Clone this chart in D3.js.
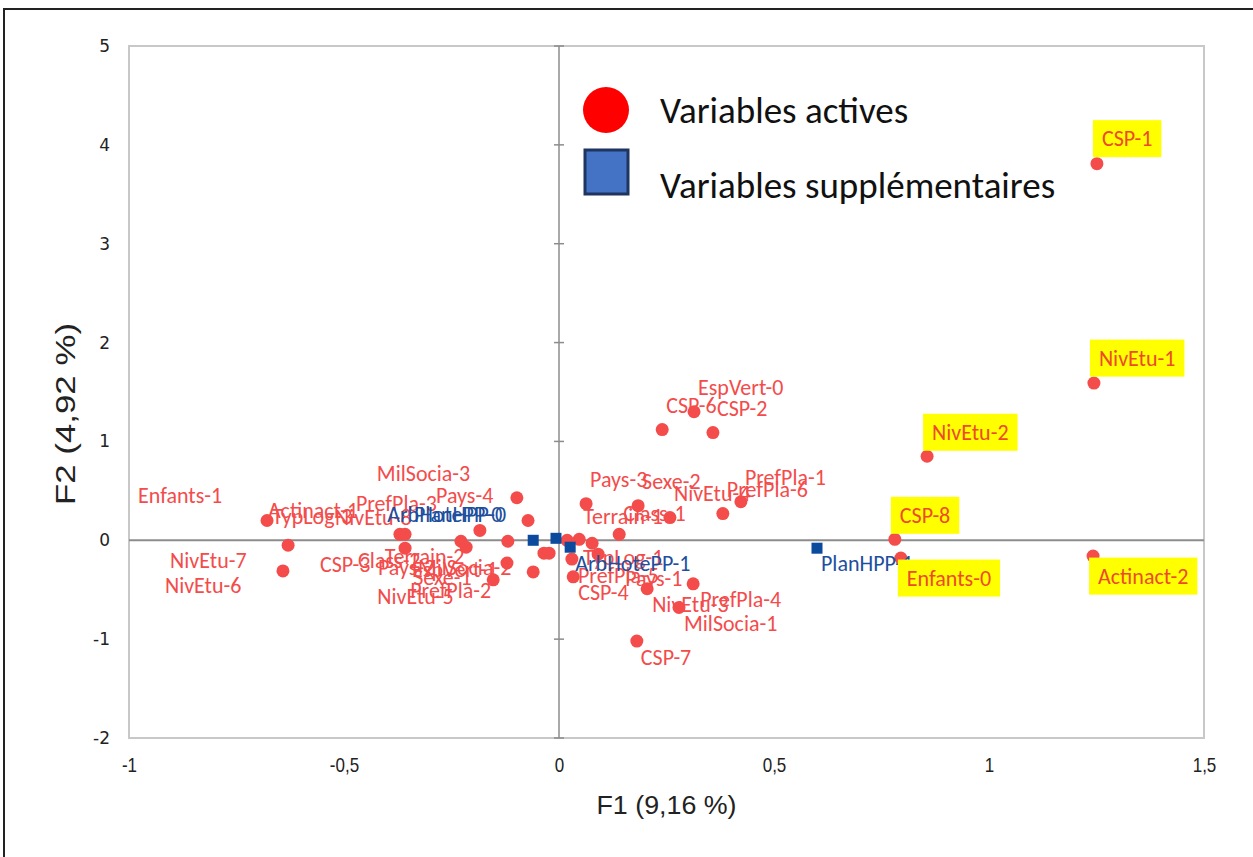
<!DOCTYPE html>
<html>
<head>
<meta charset="utf-8">
<script src="https://cdn.jsdelivr.net/npm/d3@7"></script>
<style>
  body { margin: 0; background: #fff; }
  svg { display: block; }
</style>
</head>
<body>
<div id="chart"></div>
<script>
// Variables actives (F1, F2)
const activeNames = [
  "CSP-1", "NivEtu-1", "NivEtu-2", "CSP-8", "Enfants-0", "Actinact-2",
  "CSP-6", "EspVert-0", "CSP-2", "Pays-3", "Sexe-2", "NivEtu-4", "PrefPla-6", "PrefPla-1",
  "Class-1", "Terrain-1", "TypLog-1", "PrefPla-5", "Pays-1", "CSP-4", "NivEtu-3",
  "PrefPla-4", "MilSocia-1", "CSP-7",
  "Enfants-1", "NivEtu-7", "NivEtu-6", "Actinact-1", "TypLog-3", "PrefPla-3", "NivEtu-8",
  "MilSocia-3", "Pays-4", "CSP-3", "Class-2", "Terrain-2", "Pays-2", "NivEtu-5",
  "Sexe-1", "MilSocia-2", "EspVert-1", "PrefPla-2"
];
const activeF1 = [
  1.251, 1.244, 0.856, 0.781, 0.795, 1.242,
  0.240, 0.314, 0.358, 0.063, 0.184, 0.258, 0.381, 0.423,
  0.140, 0.047, 0.077, 0.030, 0.091, 0.033, 0.205,
  0.312, 0.279, 0.181,
  -0.679, -0.630, -0.642, -0.370, -0.358, -0.184, -0.358,
  -0.098, -0.072, -0.228, -0.216, -0.119, -0.121, -0.153,
  -0.060, -0.035, -0.023, 0.019
];
const activeF2 = [
  3.81, 1.59, 0.85, 0.01, -0.18, -0.16,
  1.12, 1.30, 1.09, 0.37, 0.35, 0.23, 0.27, 0.39,
  0.06, 0.01, -0.03, -0.19, -0.14, -0.37, -0.49,
  -0.44, -0.68, -1.02,
  0.20, -0.05, -0.31, 0.06, 0.06, 0.10, -0.08,
  0.43, 0.20, -0.01, -0.07, -0.01, -0.23, -0.40,
  -0.32, -0.13, -0.13, 0.00
];

// Variables supplémentaires
const suppNames = ["ArbHotePP-0", "PlanHPP-0", "ArbHotePP-1", "PlanHPP-1"];
const suppF1 = [-0.060, -0.007, 0.026, 0.600];
const suppF2 = [0.00, 0.02, -0.07, -0.08];

// étiquettes surlignées en jaune
const highlighted = ["CSP-1", "NivEtu-1", "NivEtu-2", "CSP-8", "Enfants-0", "Actinact-2"];

const xTicks = [-1, -0.5, 0, 0.5, 1, 1.5];
const yTicks = [-2, -1, 0, 1, 2, 3, 4, 5];
const xTitle = "F1 (9,16 %)";
const yTitle = "F2 (4,92 %)";
const legendLabels = ["Variables actives", "Variables supplémentaires"];

// décalage des étiquettes (px) : début du texte, centre vertical
const defaultOffset = [4, -24];
const labelOffset = {
  "CSP-1": [5, -25], "NivEtu-1": [5, -25], "NivEtu-2": [5, -24], "CSP-8": [5, -24],
  "Enfants-0": [6, 20], "Actinact-2": [5, 20],
  "Class-1": [4, -21], "Terrain-1": [4, -23],
  "TypLog-1": [-9, 14], "PrefPla-5": [6, 16], "Pays-1": [27, 24], "CSP-4": [5, 16],
  "NivEtu-3": [5, 16], "PrefPla-4": [7, 16], "MilSocia-1": [5, 16], "CSP-7": [4, 16],
  "Enfants-1": [-129, -25], "NivEtu-7": [-118, 15], "NivEtu-6": [-118, 15],
  "Actinact-1": [-132, -24], "TypLog-3": [-133, -18], "PrefPla-3": [-124, -27],
  "NivEtu-8": [-70, -31], "MilSocia-3": [-140, -24], "Pays-4": [-92, -25],
  "CSP-3": [-141, 23], "Class-2": [-108, 13], "Terrain-2": [-123, 15], "Pays-2": [-129, 4],
  "NivEtu-5": [-116, 17], "Sexe-1": [-120, 6], "MilSocia-2": [-126, 14],
  "EspVert-1": [-137, 16], "PrefPla-2": [-157, 50],
  "ArbHotePP-0": [-146, -26], "PlanHPP-0": [-142, -24],
  "ArbHotePP-1": [5, 16], "PlanHPP-1": [4, 15]
};

const W = 1253, H = 857;
const red = "#f44b4b", blue = "#0b4a9c", blueText = "#1d4f9e";

const active = activeNames.map((n, i) => ({ name: n, f1: activeF1[i], f2: activeF2[i] }));
const supp = suppNames.map((n, i) => ({ name: n, f1: suppF1[i], f2: suppF2[i] }));

const svg = d3.select("#chart").append("svg")
  .attr("width", W)
  .attr("height", H);

// cadre extérieur
svg.append("rect")
  .attr("x", 4).attr("y", 9)
  .attr("width", W + 20).attr("height", H + 20)
  .attr("fill", "none")
  .attr("stroke", "#222")
  .attr("stroke-width", 2);

const x = d3.scaleLinear().domain([-1, 1.5]).range([129, 1204]);
const y = d3.scaleLinear().domain([-2, 5]).range([738, 46]);

const fmt = d => String(d).replace(".", ",");
const narrow = "'Liberation Sans Narrow', 'Arial Narrow', 'Liberation Sans', sans-serif";

// zone de tracé
svg.append("rect")
  .attr("x", x(-1)).attr("y", y(5))
  .attr("width", x(1.5) - x(-1)).attr("height", y(-2) - y(5))
  .attr("fill", "none")
  .attr("stroke", "#c8c8c8")
  .attr("stroke-width", 2);

// axes passant par zéro
svg.append("line")
  .attr("x1", x(-1)).attr("x2", x(1.5))
  .attr("y1", y(0)).attr("y2", y(0))
  .attr("stroke", "#8c8c8c").attr("stroke-width", 2);
svg.append("line")
  .attr("x1", x(0)).attr("x2", x(0))
  .attr("y1", y(5)).attr("y2", y(-2))
  .attr("stroke", "#8c8c8c").attr("stroke-width", 1.5);

svg.append("g").selectAll("line")
  .data(yTicks)
  .join("line")
  .attr("x1", x(0) - 5).attr("x2", x(0) + 5)
  .attr("y1", d => y(d)).attr("y2", d => y(d))
  .attr("stroke", "#8c8c8c").attr("stroke-width", 1.5);

// graduations (police étroite)
const xAxis = svg.append("g")
  .attr("transform", "translate(0," + (y(-2) + 17) + ")")
  .call(d3.axisBottom(x).tickValues(xTicks).tickSize(0).tickFormat(fmt));
xAxis.select(".domain").remove();
xAxis.selectAll("text")
  .attr("font-family", narrow)
  .attr("font-size", 20)
  .attr("fill", "#222")
  .attr("transform", "scale(0.85,1)");

const yAxis = svg.append("g")
  .attr("transform", "translate(" + (x(-1) - 16) + ",0)")
  .call(d3.axisLeft(y).tickValues(yTicks).tickSize(0).tickFormat(fmt));
yAxis.select(".domain").remove();
yAxis.selectAll("text")
  .attr("font-family", "'DejaVu Sans', Verdana, sans-serif")
  .attr("font-size", 17)
  .attr("fill", "#222");

// titres des axes
svg.append("text")
  .attr("x", (x(-1) + x(1.5)) / 2)
  .attr("y", 805)
  .attr("dominant-baseline", "central")
  .attr("text-anchor", "middle")
  .attr("font-family", narrow)
  .attr("font-size", 25)
  .attr("textLength", 140)
  .attr("lengthAdjust", "spacingAndGlyphs")
  .attr("fill", "#222")
  .text(xTitle);

svg.append("text")
  .attr("transform", "translate(66," + ((y(5) + y(-2)) / 2 + 22) + ") rotate(-90)")
  .attr("dominant-baseline", "central")
  .attr("text-anchor", "middle")
  .attr("font-family", narrow)
  .attr("font-size", 27)
  .attr("textLength", 182)
  .attr("lengthAdjust", "spacingAndGlyphs")
  .attr("fill", "#222")
  .text(yTitle);

// points
svg.append("g").selectAll("circle")
  .data(active)
  .join("circle")
  .attr("cx", d => x(d.f1))
  .attr("cy", d => y(d.f2))
  .attr("r", 6.5)
  .attr("fill", red);

svg.append("g").selectAll("rect")
  .data(supp)
  .join("rect")
  .attr("x", d => x(d.f1) - 5.5)
  .attr("y", d => y(d.f2) - 5.5)
  .attr("width", 11)
  .attr("height", 11)
  .attr("fill", blue);

const labelFont = "Calibri, Carlito, 'Noto Sans', sans-serif";
const labelSize = 22;
const off = d => labelOffset[d.name] || defaultOffset;

// étiquettes
svg.append("g").selectAll("text")
  .data(active.filter(d => !highlighted.includes(d.name)))
  .join("text")
  .attr("x", d => x(d.f1) + off(d)[0])
  .attr("y", d => y(d.f2) + off(d)[1])
  .attr("dominant-baseline", "central")
  .attr("font-family", labelFont)
  .attr("font-size", labelSize)
  .attr("fill", red)
  .text(d => d.name);

svg.append("g").selectAll("text")
  .data(supp)
  .join("text")
  .attr("x", d => x(d.f1) + off(d)[0])
  .attr("y", d => y(d.f2) + off(d)[1])
  .attr("dominant-baseline", "central")
  .attr("font-family", labelFont)
  .attr("font-size", labelSize)
  .attr("fill", blueText)
  .text(d => d.name);

const hl = svg.append("g").selectAll("g")
  .data(active.filter(d => highlighted.includes(d.name)))
  .join("g");
hl.append("text")
  .attr("x", d => x(d.f1) + off(d)[0])
  .attr("y", d => y(d.f2) + off(d)[1])
  .attr("dominant-baseline", "central")
  .attr("font-family", labelFont)
  .attr("font-size", labelSize)
  .attr("fill", "#ee4a2a")
  .text(d => d.name);
hl.each(function () {
  const g = d3.select(this);
  const b = g.select("text").node().getBBox();
  g.insert("rect", "text")
    .attr("x", b.x - 9)
    .attr("y", b.y - 5)
    .attr("width", b.width + 18)
    .attr("height", b.height + 10)
    .attr("fill", "#ffff00");
});

// légende
const legend = svg.append("g");
legend.append("circle")
  .attr("cx", 606).attr("cy", 110).attr("r", 23)
  .attr("fill", "#ff0000");
legend.append("rect")
  .attr("x", 585).attr("y", 150).attr("width", 43).attr("height", 44)
  .attr("fill", "#4472c4")
  .attr("stroke", "#1f3460")
  .attr("stroke-width", 3);
legend.selectAll("text")
  .data(legendLabels)
  .join("text")
  .attr("x", 660)
  .attr("y", (d, i) => i === 0 ? 110 : 185)
  .attr("dominant-baseline", "central")
  .attr("font-family", labelFont)
  .attr("font-size", 37)
  .attr("fill", "#111")
  .text(d => d);
</script>
</body>
</html>
